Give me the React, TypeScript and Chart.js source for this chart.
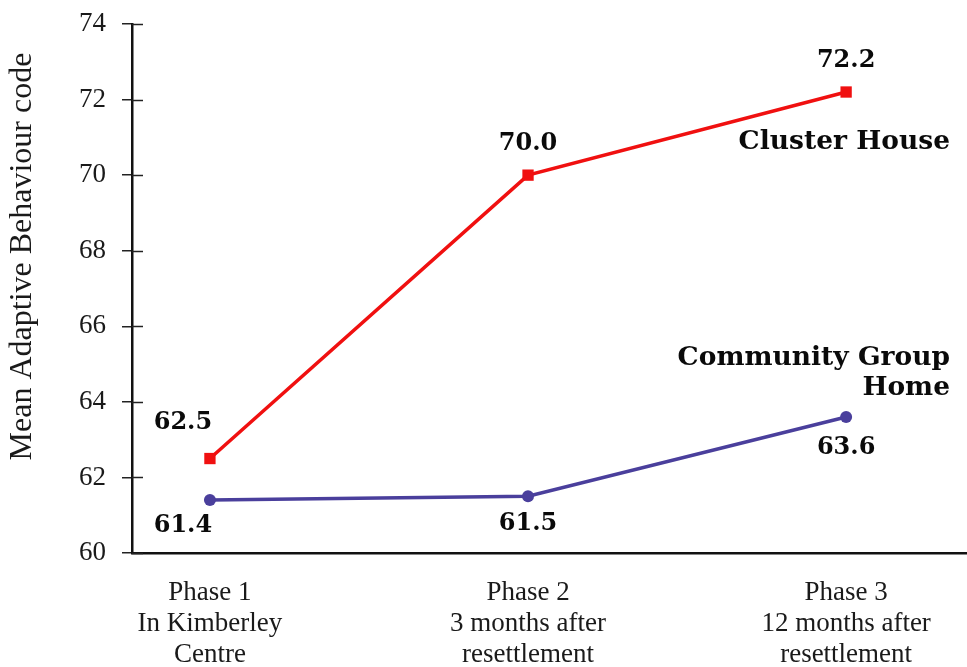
import React, { useEffect, useRef } from "react";
import { Chart, registerables } from "chart.js";

Chart.register(...registerables);

const phaseIndex = [0, 1, 2];
const phaseLabels = [
  ["Phase 1", "In Kimberley", "Centre"],
  ["Phase 2", "3 months after", "resettlement"],
  ["Phase 3", "12 months after", "resettlement"],
];
const clusterHouse = [62.5, 70.0, 72.2];
const communityGroupHome = [61.4, 61.5, 63.6];
const clusterName = ["Cluster House"];
const communityName = ["Community Group", "Home"];
const yTitle = "Mean Adaptive Behaviour code";
const yMin = 60;
const yMax = 74;
const yStep = 2;

const RED = "#f01010";
const BLUE = "#4a3f9c";
const SERIF = "'Liberation Serif', 'Times New Roman', serif";
const BOLD = "'DejaVu Serif', serif";

// label offsets (style, not data): [dx, dy] per point
const redLabelOffsets = [[-27, -36], [0, -31], [0, -31]];
const blueLabelOffsets = [[-27, 26], [0, 27], [0, 31]];

const annotatePlugin = {
  id: "annotate",
  afterDraw(chart: any) {
    const ctx = chart.ctx;
    const ys = chart.scales.y;
    const area = chart.chartArea;
    ctx.save();
    // inner parts of y ticks
    ctx.strokeStyle = "#222";
    ctx.lineWidth = 1.5;
    ys.ticks.forEach((t: any) => {
      const py = Math.round(ys.getPixelForValue(t.value)) + 0.5;
      ctx.beginPath();
      ctx.moveTo(area.left, py);
      ctx.lineTo(area.left + 11, py);
      ctx.stroke();
    });
    // y title
    ctx.save();
    ctx.translate(area.left - 109, (area.top + area.bottom) / 2 - 32);
    ctx.rotate(-Math.PI / 2);
    ctx.font = `32px ${SERIF}`;
    ctx.fillStyle = "#1a1a1a";
    ctx.textAlign = "center";
    ctx.textBaseline = "middle";
    ctx.fillText(yTitle, 0, 0);
    ctx.restore();

    // value labels
    ctx.font = `bold 24px ${BOLD}`;
    ctx.fillStyle = "#0a0a0a";
    ctx.textAlign = "center";
    ctx.textBaseline = "middle";
    const drawVals = (dsIndex: number, values: number[], offs: number[][]) => {
      const meta = chart.getDatasetMeta(dsIndex);
      meta.data.forEach((pt: any, i: number) => {
        ctx.fillText(values[i].toFixed(1), pt.x + offs[i][0], pt.y + offs[i][1]);
      });
    };
    drawVals(0, clusterHouse, redLabelOffsets);
    drawVals(1, communityGroupHome, blueLabelOffsets);

    // series names
    ctx.font = `bold 26.5px ${BOLD}`;
    ctx.textAlign = "right";
    ctx.textBaseline = "alphabetic";
    const rx = area.right - 17;
    const redLast = chart.getDatasetMeta(0).data[2];
    ctx.fillText(clusterName[0], rx, redLast.y + 57);
    const blueLast = chart.getDatasetMeta(1).data[2];
    ctx.fillText(communityName[0], rx, blueLast.y - 52);
    ctx.fillText(communityName[1], rx, blueLast.y - 22);
    ctx.restore();
  },
};

export default function App() {
  const ref = useRef<HTMLCanvasElement | null>(null);
  useEffect(() => {
    if (!ref.current) return;
    const chart = new Chart(ref.current, {
      type: "line",
      data: {
        datasets: [
          {
            label: clusterName[0],
            data: phaseIndex.map((x, i) => ({ x, y: clusterHouse[i] })),
            borderColor: RED,
            backgroundColor: RED,
            borderWidth: 3.5,
            pointStyle: "rect",
            pointRadius: 8,
            pointBorderWidth: 0,
            tension: 0,
          },
          {
            label: communityName.join(" "),
            data: phaseIndex.map((x, i) => ({ x, y: communityGroupHome[i] })),
            borderColor: BLUE,
            backgroundColor: BLUE,
            borderWidth: 3.5,
            pointStyle: "circle",
            pointRadius: 6,
            pointBorderWidth: 0,
            tension: 0,
          },
        ],
      },
      options: {
        responsive: false,
        animation: false,
        layout: { autoPadding: false, padding: { left: 0, top: 24, right: 0, bottom: 0 } },
        plugins: {
          legend: { display: false },
          tooltip: { enabled: false },
        },
        scales: {
          x: {
            type: "linear",
            min: -0.245,
            max: 2.38,
            afterBuildTicks: (s: any) => {
              s.ticks = phaseIndex.map((v) => ({ value: v }));
            },
            afterFit: (s: any) => {
              s.height = 114;
              s.paddingLeft = 0;
              s.paddingRight = 0;
            },
            grid: { display: false, drawTicks: false },
            border: { display: true, color: "#111", width: 2.5 },
            ticks: {
              padding: 24,
              color: "#1a1a1a",
              font: { family: SERIF, size: 27, lineHeight: 1.15 },
              maxRotation: 0,
              autoSkip: false,
              callback: (v: any) => phaseLabels[Math.round(Number(v))] || "",
            },
          },
          y: {
            min: yMin,
            max: yMax,
            afterFit: (s: any) => {
              s.width = 132;
              s.paddingTop = 0;
              s.paddingBottom = 0;
            },
            grid: {
              display: true,
              drawOnChartArea: false,
              drawTicks: true,
              tickLength: 10,
              color: "#222",
              lineWidth: 1.5,
            },
            border: { display: true, color: "#111", width: 2.5 },
            ticks: {
              stepSize: yStep,
              padding: 16,
              color: "#1a1a1a",
              font: { family: SERIF, size: 27 },
            },
          },
        },
      },
      plugins: [annotatePlugin],
    } as any);
    return () => chart.destroy();
  }, []);
  return (
    <div
      style={{
        position: "fixed",
        left: 0,
        top: 0,
        width: 967,
        height: 667,
        overflow: "hidden",
      }}
    >
      <canvas ref={ref} width={967} height={667} style={{ display: "block" }} />
    </div>
  );
}
